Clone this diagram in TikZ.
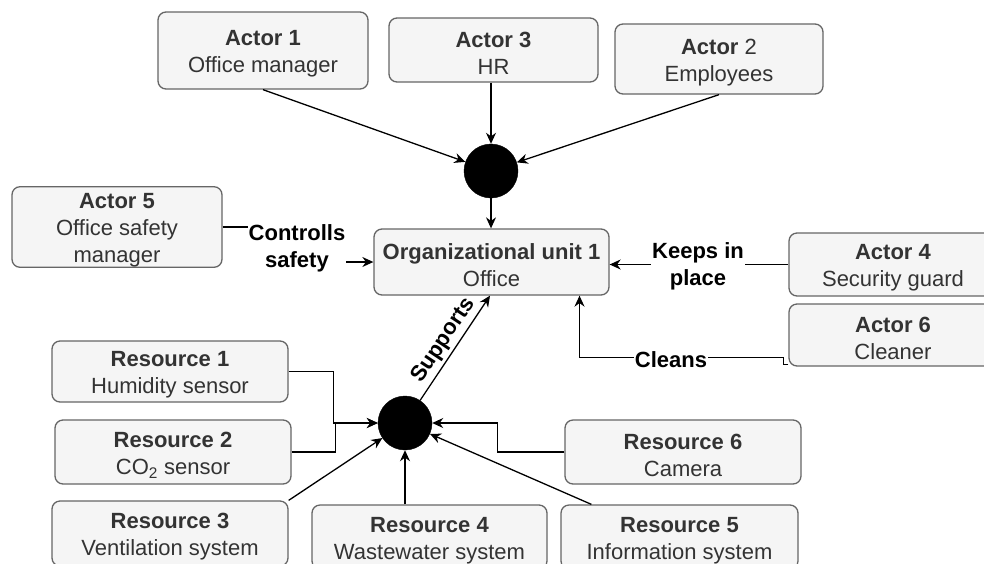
\documentclass[tikz,border=0pt]{standalone}
\usepackage{fontspec}
\setmainfont{Liberation Sans}
\usetikzlibrary{arrows.meta,calc}
\definecolor{boxfill}{HTML}{F5F5F5}
\definecolor{boxline}{HTML}{666666}
\definecolor{txt}{HTML}{333333}
\newcommand\boxstrut{\rule{0pt}{22pt}}
\begin{document}
\begin{tikzpicture}[x=1pt,y=-1pt,
  every node/.style={font=\fontsize{22}{27}\selectfont},
  box/.style={draw=boxline,fill=boxfill,line width=1.3pt,rounded corners=8pt,
    text=txt,align=center,inner sep=0pt},
  dot/.style={circle,fill=black,draw=black,minimum size=54pt,inner sep=0pt},
  arr/.style={draw=black,line width=1.3pt,-{Stealth[length=11pt,width=10pt]}},
  lbl/.style={fill=white,align=center,font=\fontsize{22}{27}\selectfont\bfseries,inner sep=1pt}]
\useasboundingbox (0,0) rectangle (984,563);
\fill[white] (0,0) rectangle (984,563);

% actors
\node[box,minimum width=210pt,minimum height=77pt] (a1) at (263,50.5) {\boxstrut\textbf{Actor 1}\\Office manager};
\node[box,minimum width=209pt,minimum height=64pt] (a3) at (493.5,50) {\boxstrut\textbf{Actor 3}\\HR};
\node[box,minimum width=208pt,minimum height=70pt] (a2) at (719,59) {\boxstrut\textbf{Actor} 2\\Employees};
\node[box,minimum width=210pt,minimum height=78pt] (a5) at (117,227) {\boxstrut\textbf{Actor 5}\\Office safety\\manager};
\node[box,minimum width=235pt,minimum height=66pt] (org) at (491.5,262) {\boxstrut\textbf{Organizational unit 1}\\Office};
\node[box,minimum width=208pt,minimum height=63pt] (a4) at (893,264.5) {\boxstrut\textbf{Actor 4}\\Security guard};
\node[box,minimum width=208pt,minimum height=62pt] (a6) at (893,335) {\boxstrut\textbf{Actor 6}\\Cleaner};

% resources
\node[box,minimum width=236pt,minimum height=61pt] (r1) at (170,371.5) {\boxstrut\textbf{Resource 1}\\Humidity sensor};
\node[box,minimum width=236pt,minimum height=64pt] (r2) at (173,452) {\boxstrut\textbf{Resource 2}\\CO\textsubscript{2} sensor};
\node[box,minimum width=236pt,minimum height=64pt] (r6) at (683,452) {\boxstrut\textbf{Resource 6}\\Camera};
\node[box,minimum width=236pt,minimum height=65pt] (r3) at (170,533.5) {\boxstrut\textbf{Resource 3}\\Ventilation system};
\node[box,minimum width=235pt,minimum height=64pt] (r4) at (429.5,537) {\boxstrut\textbf{Resource 4}\\Wastewater system};
\node[box,minimum width=237pt,minimum height=64pt] (r5) at (679.5,537) {\boxstrut\textbf{Resource 5}\\Information system};

% junctions
\node[dot] (c1) at (491,171) {};
\node[dot] (c2) at (405,423) {};

% top edges
\draw[arr] (a1.south) -- (c1);
\draw[arr] (a3.south -| c1) -- (c1);
\draw[arr] (a2.south) -- (c1);
\draw[arr] (c1) -- (c1 |- org.north);

% actor 5
\draw[arr] (a5.east) -- (298,227) |- (org.west);
\node[lbl] (l5) at (297,248) {Controlls\\safety};

% actor 4
\draw[arr] (a4.west) -- (a4.west -| org.east);
\node[lbl] (l4) at (698,266) {Keeps in\\place};

% actor 6
\draw[arr] ($(a6.south west)+(0,-2)$) -- ++(-5,0) -- ++(0,-7) -| ([xshift=88pt]org.south);
\node[lbl] (l6) at (671,360) {Cleans};

% supports
\draw[arr] (c2) -- ([xshift=-1.5pt]org.south) node[midway,sloped,above,font=\fontsize{22}{27}\selectfont\bfseries,inner sep=3pt] (ls) {Supports};

% resources to junction
\draw[arr] (r1.east) -- ++(45,0) |- (c2.west);
\draw[arr] (r2.east) -- ++(44,0) |- (c2.west);
\draw[arr] (r6.west) -- ++(-67,0) |- (c2.east);
\draw[arr] (r3.north east) -- (c2);
\draw[arr] (c2 |- r4.north) -- (c2);
\draw[arr] ([xshift=31pt]r5.north west) -- (c2);
\end{tikzpicture}
\end{document}
